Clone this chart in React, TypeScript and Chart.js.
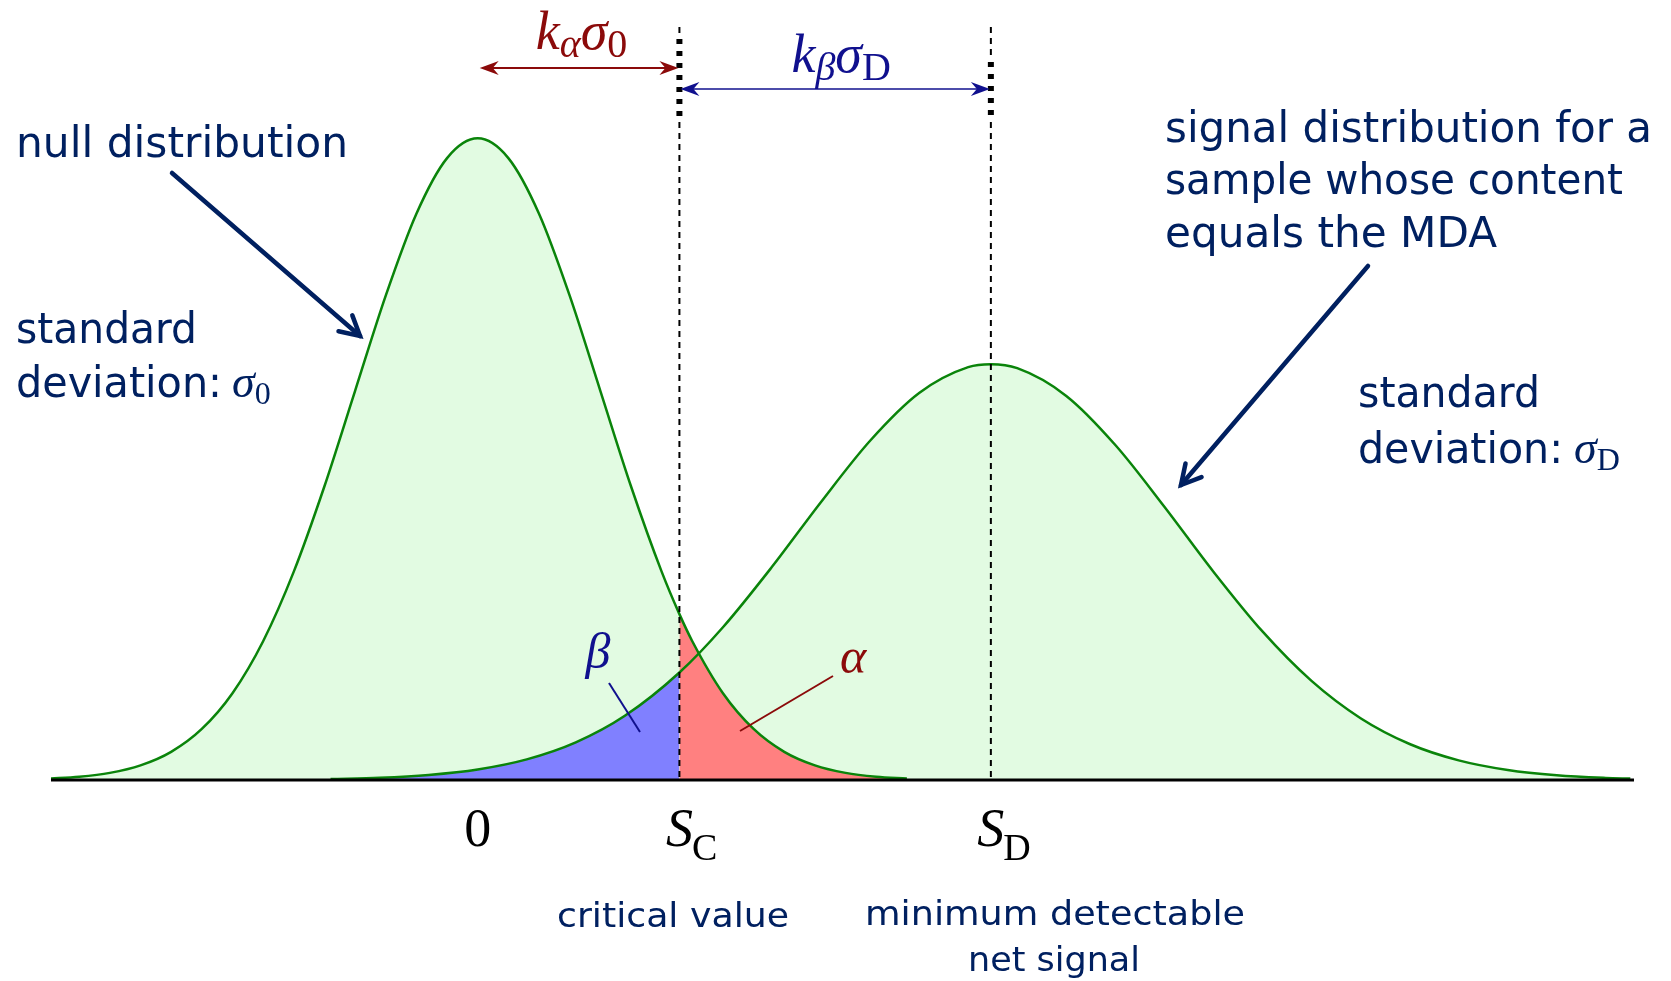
import React, { useEffect, useRef } from 'react';
import { Chart, registerables } from 'chart.js';
Chart.register(...registerables);

// ---- data (units: null-distribution standard deviations; heights relative to null peak) ----
const SC = 1.645; // critical value
const SD = 4.185; // minimum detectable net signal

const nullX = [-3.5, -3.25, -3.0, -2.75, -2.5, -2.25, -2.0, -1.75, -1.5, -1.25, -1.0, -0.75, -0.5, -0.25, 0,
  0.25, 0.5, 0.75, 1.0, 1.25, 1.5, 1.645, 1.75, 2.0, 2.25, 2.5, 2.75, 3.0, 3.25, 3.5];
const nullY = [0.0022, 0.0051, 0.0111, 0.0228, 0.0439, 0.0796, 0.1353, 0.2163, 0.3247, 0.4578, 0.6065, 0.7548, 0.8825, 0.9692, 1.0,
  0.9692, 0.8825, 0.7548, 0.6065, 0.4578, 0.3247, 0.2585, 0.2163, 0.1353, 0.0796, 0.0439, 0.0228, 0.0111, 0.0051, 0.0022];

const signalX = [-1.2, -0.8, -0.4, 0, 0.4, 0.8, 1.2, 1.645, 2.0, 2.4, 2.8, 3.2, 3.6, 4.0, 4.185, 4.4, 4.8, 5.2, 5.6,
  6.0, 6.4, 6.8, 7.2, 7.6, 8.0, 8.4, 8.8, 9.2, 9.4];
const signalY = [0.0015, 0.0035, 0.0079, 0.0164, 0.0321, 0.0586, 0.1, 0.1675, 0.2381, 0.3322, 0.4333, 0.5287, 0.6031, 0.6434, 0.648, 0.6418, 0.5986, 0.5221, 0.4259,
  0.3247, 0.2315, 0.1544, 0.0963, 0.0561, 0.0306, 0.0156, 0.0074, 0.0033, 0.0022];

const tickValues = [0, SC, SD];
const tickMain = ['0', 'S', 'S'];
const tickSub = ['', 'C', 'D'];

// ---- styles ----
const NAVY = '#002060';
const DARKRED = '#8b0a0a';
const DARKBLUE = '#10108e';
const GREEN_LINE = '#0a840a';
const GREEN_FILL = '#e2fbe2';
const SANS = '"DejaVu Sans", sans-serif';
const SERIF = '"Liberation Serif", "DejaVu Serif", serif';

type Seg = { t: string; font: string; dy?: number };

function fitText(ctx: CanvasRenderingContext2D, text: string, x: number, y: number, font: string, color: string, width: number) {
  ctx.save();
  ctx.font = font;
  ctx.fillStyle = color;
  ctx.textAlign = 'left';
  ctx.textBaseline = 'alphabetic';
  const w = ctx.measureText(text).width;
  ctx.translate(x, y);
  ctx.scale(width / w, 1);
  ctx.fillText(text, 0, 0);
  ctx.restore();
}

function richText(ctx: CanvasRenderingContext2D, segs: Seg[], x: number, y: number, color: string, align: 'left' | 'center') {
  ctx.save();
  ctx.fillStyle = color;
  ctx.textAlign = 'left';
  ctx.textBaseline = 'alphabetic';
  let total = 0;
  const ws = segs.map((s) => { ctx.font = s.font; const w = ctx.measureText(s.t).width; total += w; return w; });
  let cx = align === 'center' ? x - total / 2 : x;
  segs.forEach((s, i) => { ctx.font = s.font; ctx.fillText(s.t, cx, y + (s.dy || 0)); cx += ws[i]; });
  ctx.restore();
}

function stealth(ctx: CanvasRenderingContext2D, tipX: number, y: number, dir: number, color: string) {
  const L = 19, hw = 7, notch = 13;
  ctx.save();
  ctx.fillStyle = color;
  ctx.beginPath();
  ctx.moveTo(tipX, y);
  ctx.lineTo(tipX - dir * L, y - hw);
  ctx.lineTo(tipX - dir * notch, y);
  ctx.lineTo(tipX - dir * L, y + hw);
  ctx.closePath();
  ctx.fill();
  ctx.restore();
}

function openArrow(ctx: CanvasRenderingContext2D, x1: number, y1: number, x2: number, y2: number, color: string) {
  ctx.save();
  ctx.strokeStyle = color;
  ctx.lineWidth = 4.5;
  ctx.lineCap = 'round';
  ctx.lineJoin = 'miter';
  ctx.beginPath();
  ctx.moveTo(x1, y1);
  ctx.lineTo(x2, y2);
  ctx.stroke();
  const a = Math.atan2(y2 - y1, x2 - x1);
  const L = 22, spread = 0.5;
  ctx.beginPath();
  ctx.moveTo(x2 - L * Math.cos(a - spread), y2 - L * Math.sin(a - spread));
  ctx.lineTo(x2, y2);
  ctx.lineTo(x2 - L * Math.cos(a + spread), y2 - L * Math.sin(a + spread));
  ctx.stroke();
  ctx.restore();
}

function vDash(ctx: CanvasRenderingContext2D, x: number, y1: number, y2: number, width: number, dash: number[]) {
  ctx.save();
  ctx.strokeStyle = '#000';
  ctx.lineWidth = width;
  ctx.setLineDash(dash);
  ctx.beginPath();
  ctx.moveTo(x, y1);
  ctx.lineTo(x, y2);
  ctx.stroke();
  ctx.restore();
}

const annotPlugin = {
  id: 'annot',
  afterDatasetsDraw(chart: any) {
    const ctx: CanvasRenderingContext2D = chart.ctx;
    const xs = chart.scales.x;
    const ys = chart.scales.y;
    const ca = chart.chartArea;
    const y0 = ys.getPixelForValue(0);
    const px0 = xs.getPixelForValue(0);
    const pxC = xs.getPixelForValue(SC);
    const pxD = xs.getPixelForValue(SD);

    // baseline
    ctx.save();
    ctx.strokeStyle = '#000';
    ctx.lineWidth = 3;
    ctx.beginPath();
    ctx.moveTo(ca.left, y0);
    ctx.lineTo(ca.right, y0);
    ctx.stroke();
    ctx.restore();

    // vertical dashed lines
    vDash(ctx, pxC, 27, 37, 2, [6, 5]);
    vDash(ctx, pxC, 39, 118, 6, [5, 7]);
    vDash(ctx, pxC, 122, y0, 2, [6, 5]);
    vDash(ctx, pxD, 27, 58, 2, [6, 5]);
    vDash(ctx, pxD, 62, 118, 6, [5, 7]);
    vDash(ctx, pxD, 122, y0, 2, [6, 5]);

    // k_alpha sigma_0 arrow
    ctx.save();
    ctx.strokeStyle = DARKRED;
    ctx.lineWidth = 2;
    ctx.beginPath();
    ctx.moveTo(px0 + 10, 68);
    ctx.lineTo(pxC - 10, 68);
    ctx.stroke();
    ctx.restore();
    stealth(ctx, px0 + 2, 68, -1, DARKRED);
    stealth(ctx, pxC - 1, 68, 1, DARKRED);
    richText(ctx, [
      { t: 'k', font: `italic 54px ${SERIF}` },
      { t: 'α', font: `italic 40px ${SERIF}`, dy: 8 },
      { t: 'σ', font: `italic 54px ${SERIF}` },
      { t: '0', font: `40px ${SERIF}`, dy: 8 },
    ], (px0 + pxC) / 2 + 3, 49, DARKRED, 'center');

    // k_beta sigma_D arrow
    ctx.save();
    ctx.strokeStyle = DARKBLUE;
    ctx.lineWidth = 1.5;
    ctx.beginPath();
    ctx.moveTo(pxC + 10, 89);
    ctx.lineTo(pxD - 10, 89);
    ctx.stroke();
    ctx.restore();
    stealth(ctx, pxC + 1, 89, -1, DARKBLUE);
    stealth(ctx, pxD - 1, 89, 1, DARKBLUE);
    richText(ctx, [
      { t: 'k', font: `italic 54px ${SERIF}` },
      { t: 'β', font: `italic 40px ${SERIF}`, dy: 8 },
      { t: 'σ', font: `italic 54px ${SERIF}` },
      { t: 'D', font: `40px ${SERIF}`, dy: 8 },
    ], (pxC + pxD) / 2 + 6, 72, DARKBLUE, 'center');

    // tick labels
    tickValues.forEach((v, i) => {
      const px = xs.getPixelForValue(v);
      ctx.save();
      ctx.fillStyle = '#000';
      ctx.textBaseline = 'alphabetic';
      ctx.textAlign = 'center';
      ctx.font = i === 0 ? `54px ${SERIF}` : `italic 54px ${SERIF}`;
      ctx.fillText(tickMain[i], px, 846);
      const w = ctx.measureText(tickMain[i]).width;
      if (tickSub[i]) {
        ctx.textAlign = 'left';
        ctx.font = `38px ${SERIF}`;
        ctx.fillText(tickSub[i], px + w / 2 - 1, 860);
      }
      ctx.restore();
    });

    // text labels
    const F = `42px ${SANS}`;
    fitText(ctx, 'null distribution', 16, 157, F, NAVY, 332);
    fitText(ctx, 'standard', 16, 343, F, NAVY, 181);
    fitText(ctx, 'deviation:', 16, 397, F, NAVY, 206);
    richText(ctx, [
      { t: 'σ', font: `italic 46px ${SERIF}` },
      { t: '0', font: `32px ${SERIF}`, dy: 7 },
    ], 232, 397, NAVY, 'left');

    fitText(ctx, 'signal distribution for a', 1165, 142, F, NAVY, 487);
    fitText(ctx, 'sample whose content', 1165, 194, F, NAVY, 458);
    fitText(ctx, 'equals the MDA', 1165, 247, F, NAVY, 332);
    fitText(ctx, 'standard', 1358, 407, F, NAVY, 182);
    fitText(ctx, 'deviation:', 1358, 463, F, NAVY, 205);
    richText(ctx, [
      { t: 'σ', font: `italic 46px ${SERIF}` },
      { t: 'D', font: `32px ${SERIF}`, dy: 7 },
    ], 1574, 463, NAVY, 'left');

    const FB = `34px ${SANS}`;
    fitText(ctx, 'critical value', 557, 927, FB, NAVY, 232);
    fitText(ctx, 'minimum detectable', 865, 925, FB, NAVY, 380);
    fitText(ctx, 'net signal', 968, 971, FB, NAVY, 172);

    // pointer arrows
    openArrow(ctx, 172, 173, 360, 336, NAVY);
    openArrow(ctx, 1368, 266, 1181, 485, NAVY);

    // alpha / beta labels
    ctx.save();
    ctx.textAlign = 'center';
    ctx.textBaseline = 'alphabetic';
    ctx.font = `italic 50px ${SERIF}`;
    ctx.fillStyle = DARKBLUE;
    ctx.fillText('β', 598, 668);
    ctx.fillStyle = DARKRED;
    ctx.fillText('α', 853, 673);
    ctx.lineWidth = 2;
    ctx.strokeStyle = DARKBLUE;
    ctx.beginPath();
    ctx.moveTo(609, 683);
    ctx.lineTo(640, 732);
    ctx.stroke();
    ctx.strokeStyle = DARKRED;
    ctx.beginPath();
    ctx.moveTo(833, 676);
    ctx.lineTo(740, 731);
    ctx.stroke();
    ctx.restore();
  },
};

export default function App() {
  const ref = useRef<HTMLCanvasElement>(null);
  useEffect(() => {
    document.body.style.margin = '0';
    const nullPts = nullX.map((x, i) => ({ x, y: nullY[i] }));
    const sigPts = signalX.map((x, i) => ({ x, y: signalY[i] }));
    const alphaPts = nullPts.filter((p) => p.x >= SC);
    const betaPts = sigPts.filter((p) => p.x <= SC);
    const common = { pointRadius: 0, cubicInterpolationMode: 'monotone' as const, fill: 'origin' as const };
    const chart = new Chart(ref.current as HTMLCanvasElement, {
      type: 'line',
      data: {
        datasets: [
          { ...common, data: alphaPts, backgroundColor: '#ff8080', borderColor: 'rgba(0,0,0,0)', borderWidth: 0 },
          { ...common, data: betaPts, backgroundColor: '#8080ff', borderColor: 'rgba(0,0,0,0)', borderWidth: 0 },
          { ...common, data: nullPts, backgroundColor: GREEN_FILL, borderColor: GREEN_LINE, borderWidth: 2.5 },
          { ...common, data: sigPts, backgroundColor: GREEN_FILL, borderColor: GREEN_LINE, borderWidth: 2.5 },
        ],
      },
      options: {
        animation: false,
        responsive: false,
        events: [],
        layout: { padding: { left: 51, right: 37, top: 10, bottom: 201 } },
        scales: {
          x: { type: 'linear', min: -3.48, max: 9.43, display: false },
          y: { min: 0, max: 1.2, display: false },
        },
        plugins: {
          legend: { display: false },
          tooltip: { enabled: false },
          filler: { drawTime: 'beforeDatasetsDraw' },
        } as any,
      },
      plugins: [annotPlugin],
    });
    return () => chart.destroy();
  }, []);
  return <canvas ref={ref} width={1671} height={981} style={{ display: 'block' }} />;
}
